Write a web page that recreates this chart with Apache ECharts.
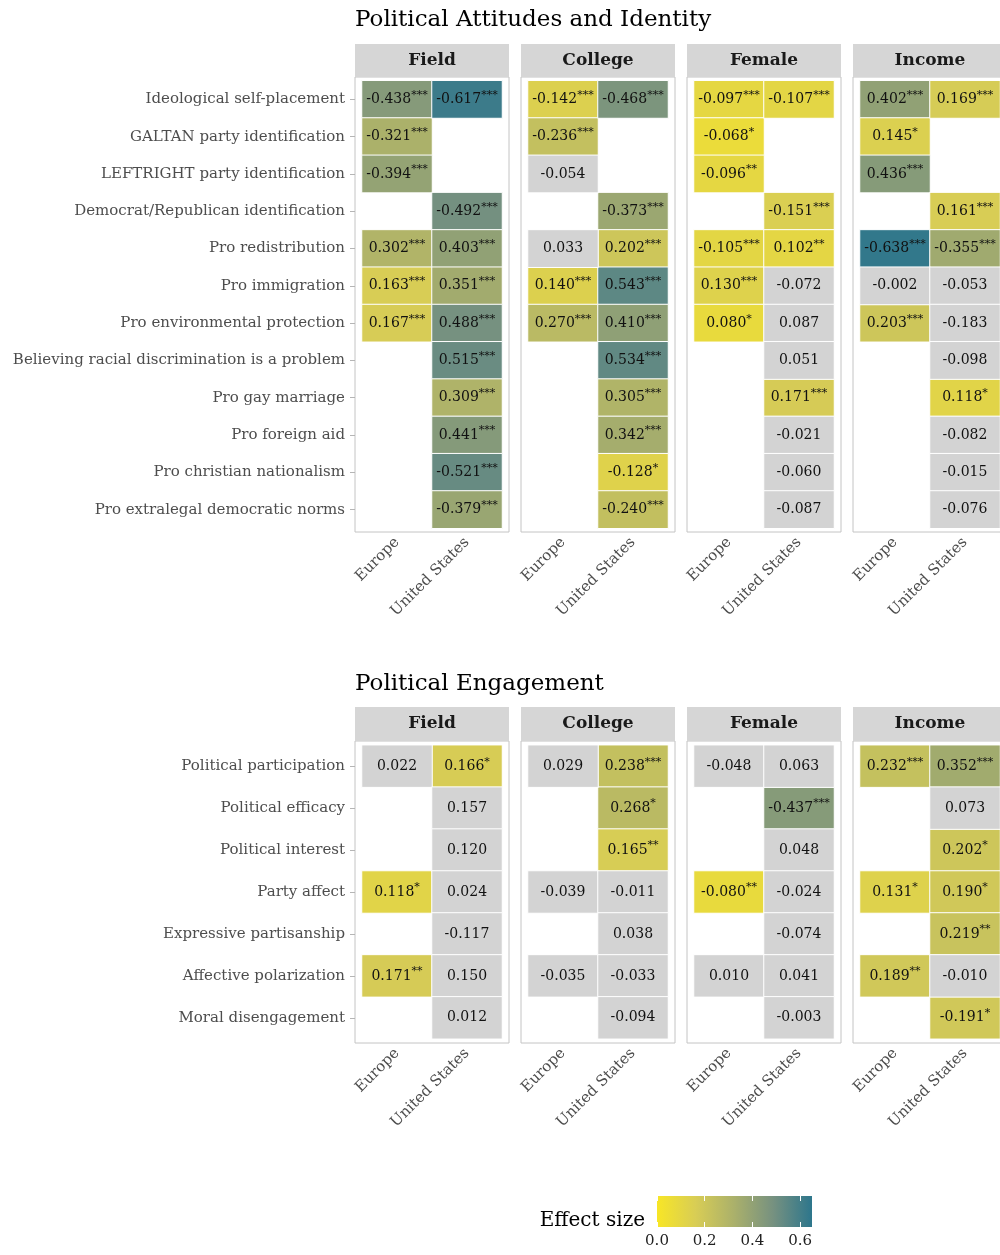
<!DOCTYPE html>
<html>
<head>
<meta charset="utf-8">
<script src="https://cdn.jsdelivr.net/npm/echarts@6/dist/echarts.min.js"></script>
<style>html,body{margin:0;padding:0;background:#fff}#chart{width:1000px;height:1255px}</style>
</head>
<body>
<div id="chart"></div>
<script>
const FONT = 'DejaVu Serif'
const facets = ['Field', 'College', 'Female', 'Income']
const regions = ['Europe', 'United States']

// section 1: attitudes & identity
const attRows = ['Ideological self-placement', 'GALTAN party identification', 'LEFTRIGHT party identification',
  'Democrat/Republican identification', 'Pro redistribution', 'Pro immigration', 'Pro environmental protection',
  'Believing racial discrimination is a problem', 'Pro gay marriage', 'Pro foreign aid',
  'Pro christian nationalism', 'Pro extralegal democratic norms']
const attFieldEU   = ['-0.438***', '-0.321***', '-0.394***', null, '0.302***', '0.163***', '0.167***', null, null, null, null, null]
const attFieldUS   = ['-0.617***', null, null, '-0.492***', '0.403***', '0.351***', '0.488***', '0.515***', '0.309***', '0.441***', '-0.521***', '-0.379***']
const attCollegeEU = ['-0.142***', '-0.236***', '-0.054', null, '0.033', '0.140***', '0.270***', null, null, null, null, null]
const attCollegeUS = ['-0.468***', null, null, '-0.373***', '0.202***', '0.543***', '0.410***', '0.534***', '0.305***', '0.342***', '-0.128*', '-0.240***']
const attFemaleEU  = ['-0.097***', '-0.068*', '-0.096**', null, '-0.105***', '0.130***', '0.080*', null, null, null, null, null]
const attFemaleUS  = ['-0.107***', null, null, '-0.151***', '0.102**', '-0.072', '0.087', '0.051', '0.171***', '-0.021', '-0.060', '-0.087']
const attIncomeEU  = ['0.402***', '0.145*', '0.436***', null, '-0.638***', '-0.002', '0.203***', null, null, null, null, null]
const attIncomeUS  = ['0.169***', null, null, '0.161***', '-0.355***', '-0.053', '-0.183', '-0.098', '0.118*', '-0.082', '-0.015', '-0.076']

// section 2: engagement
const engRows = ['Political participation', 'Political efficacy', 'Political interest', 'Party affect',
  'Expressive partisanship', 'Affective polarization', 'Moral disengagement']
const engFieldEU   = ['0.022', null, null, '0.118*', null, '0.171**', null]
const engFieldUS   = ['0.166*', '0.157', '0.120', '0.024', '-0.117', '0.150', '0.012']
const engCollegeEU = ['0.029', null, null, '-0.039', null, '-0.035', null]
const engCollegeUS = ['0.238***', '0.268*', '0.165**', '-0.011', '0.038', '-0.033', '-0.094']
const engFemaleEU  = ['-0.048', null, null, '-0.080**', null, '0.010', null]
const engFemaleUS  = ['0.063', '-0.437***', '0.048', '-0.024', '-0.074', '0.041', '-0.003']
const engIncomeEU  = ['0.232***', null, null, '0.131*', null, '0.189**', null]
const engIncomeUS  = ['0.352***', '0.073', '0.202*', '0.190*', '0.219**', '-0.010', '-0.191*']

const legendTicks = [0, 0.2, 0.4, 0.6]
const scaleMax = 0.65
const scaleColors = ['#f8e626', '#d8cd55', '#aab06b', '#769180', '#2d768c']
const GRAY = '#d3d3d3'

const sections = [
  { title: 'Political Attitudes and Identity', rows: attRows,
    cols: [[attFieldEU, attFieldUS], [attCollegeEU, attCollegeUS], [attFemaleEU, attFemaleUS], [attIncomeEU, attIncomeUS]],
    titleTop: 4, stripTop: 44, panelTop: 77, panelBottom: 532 },
  { title: 'Political Engagement', rows: engRows,
    cols: [[engFieldEU, engFieldUS], [engCollegeEU, engCollegeUS], [engFemaleEU, engFemaleUS], [engIncomeEU, engIncomeUS]],
    titleTop: 668, stripTop: 707, panelTop: 741, panelBottom: 1043 },
]

const PANEL_X0 = 355, PANEL_STEP = 166, PANEL_W = 154, PAD_X = 7

const grids = [], xAxes = [], yAxes = [], series = [], graphics = [], titles = [], sigIdx = []

sections.forEach(sec => {
  titles.push({ text: sec.title, left: 350, top: sec.titleTop,
    textStyle: { fontFamily: FONT, fontSize: 23, fontWeight: 'normal', color: '#000' } })
  const panelH = sec.panelBottom - sec.panelTop
  const padY = panelH / (sec.rows.length + 0.2) * 0.1

  facets.forEach((f, fi) => {
    const px = PANEL_X0 + fi * PANEL_STEP
    const sh = sec.panelTop - sec.stripTop
    graphics.push({
      type: 'rect', z: 1, silent: true,
      shape: { x: px, y: sec.stripTop, width: PANEL_W, height: sh },
      style: { fill: '#d6d6d6' }
    })
    graphics.push({
      type: 'text', z: 2, silent: true, x: px + PANEL_W / 2, y: sec.stripTop + sh / 2,
      style: { text: f, font: 'bold 17px "DejaVu Serif"', fill: '#1a1a1a', align: 'center', verticalAlign: 'middle' }
    })
    // panel frame
    grids.push({ left: px, top: sec.panelTop, width: PANEL_W, height: panelH, show: true,
      borderColor: '#c4c4c4', borderWidth: 1, backgroundColor: '#fff', outerBoundsMode: 'none' })
    // cells
    const gi = grids.length
    grids.push({ left: px + PAD_X, top: sec.panelTop + padY, width: PANEL_W - 2 * PAD_X, height: panelH - 2 * padY,
      outerBoundsMode: 'none' })
    xAxes.push({ gridIndex: gi, type: 'category', data: regions, offset: padY,
      axisLine: { show: false },
      axisTick: { alignWithLabel: true, length: 5, lineStyle: { color: '#b5b5b5' } },
      axisLabel: { rotate: 45, margin: 8, fontFamily: FONT, fontSize: 15, color: '#4d4d4d' },
      splitLine: { show: false } })
    yAxes.push({ gridIndex: gi, type: 'category', data: sec.rows, inverse: true, offset: PAD_X,
      axisLine: { show: false },
      axisTick: { show: fi === 0, alignWithLabel: true, length: 5, lineStyle: { color: '#b5b5b5' } },
      axisLabel: { show: fi === 0, margin: 10, fontFamily: FONT, fontSize: 15, color: '#4d4d4d' },
      splitLine: { show: false } })

    const sig = [], ns = []
    sec.cols[fi].forEach((col, ci) => {
      col.forEach((s, r) => {
        if (s == null) return
        const stars = s.replace(/^[-0-9.]+/, '')
        const item = { value: [ci, r, Math.abs(parseFloat(s))], txt: s.slice(0, s.length - stars.length), stars }
        ;(stars ? sig : ns).push(item)
      })
    })
    const mk = (data, extra) => Object.assign({
      type: 'heatmap', xAxisIndex: xAxes.length - 1, yAxisIndex: yAxes.length - 1, data,
      itemStyle: { borderColor: '#fff', borderWidth: 1 },
      emphasis: { disabled: true },
      label: { show: true, color: '#111',
        formatter: p => p.data.stars ? `{v|${p.data.txt}}{s|${p.data.stars}}` : `{v|${p.data.txt}}`,
        rich: {
          v: { fontFamily: FONT, fontSize: 14, color: '#111', lineHeight: 20 },
          s: { fontFamily: FONT, fontSize: 11, color: '#111', lineHeight: 13, verticalAlign: 'top' }
        } }
    }, extra)
    sigIdx.push(series.length)
    series.push(mk(sig, {}))
    series.push(mk(ns, { itemStyle: { color: GRAY, borderColor: '#fff', borderWidth: 1 } }))
  })
})

// colour bar legend
const lg = grids.length
grids.push({ left: 657, top: 1196, width: 155, height: 31, show: true, borderWidth: 0, outerBoundsMode: 'none',
  backgroundColor: new echarts.graphic.LinearGradient(0, 0, 1, 0,
    scaleColors.map((c, i) => ({ offset: i / (scaleColors.length - 1), color: c }))) })
const isTick = v => legendTicks.some(t => Math.abs(t - v) < 1e-6)
xAxes.push({ gridIndex: lg, type: 'value', min: 0, max: scaleMax, interval: 0.2, position: 'bottom',
  axisLine: { show: false }, splitLine: { show: false },
  axisTick: { inside: true, length: 5, lineStyle: { color: '#fff', width: 1 } },
  axisLabel: { margin: 7, fontFamily: FONT, fontSize: 15, color: '#222', showMaxLabel: false,
    formatter: v => isTick(v) ? v.toFixed(1) : '' } })
xAxes.push({ gridIndex: lg, type: 'value', min: 0, max: scaleMax, interval: 0.2, position: 'top',
  axisLine: { show: false }, splitLine: { show: false }, axisLabel: { show: false },
  axisTick: { inside: true, length: 5, lineStyle: { color: '#fff', width: 1 } } })
yAxes.push({ gridIndex: lg, type: 'value', show: false })
graphics.push({ type: 'text', right: 355, top: 1211,
  style: { text: 'Effect size', font: '20px "DejaVu Serif"', fill: '#000' } })

const chart = echarts.init(document.getElementById('chart'), null, { renderer: 'canvas' })
chart.setOption({
  animation: false,
  title: titles,
  grid: grids,
  xAxis: xAxes,
  yAxis: yAxes,
  visualMap: { show: false, type: 'continuous', min: 0, max: scaleMax, dimension: 2,
    seriesIndex: sigIdx, inRange: { color: scaleColors } },
  graphic: graphics,
  series
})
</script>
</body>
</html>
